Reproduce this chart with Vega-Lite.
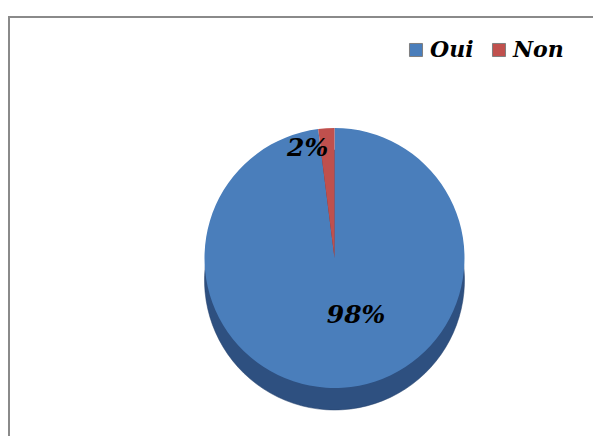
{
  "$schema": "https://vega.github.io/schema/vega-lite/v6.json",
  "width": 593,
  "height": 436,
  "autosize": {"type": "fit", "contains": "padding"},
  "padding": {"left": 8, "top": 16, "right": -4, "bottom": -4},
  "background": "white",
  "data": {"values": [
    {"cat": "Oui", "value": 98, "label": "98%", "order": 1},
    {"cat": "Non", "value": 2, "label": "2%", "order": 2}
  ]},
  "layer": [
    {
      "mark": {"type": "rect", "fill": null, "fillOpacity": 0, "stroke": "#8a8a8a", "strokeWidth": 2},
      "encoding": {}
    },
    {
      "mark": {"type": "arc", "xOffset": 32, "yOffset": 52, "stroke": "#24406a", "strokeWidth": 0.5},
      "encoding": {
        "theta": {"field": "value", "type": "quantitative", "stack": true},
        "order": {"field": "order", "type": "quantitative"},
        "radius": {"condition": {"test": "datum.cat === 'Non'", "value": 155}, "value": 130},
        "color": {"condition": {"test": "datum.cat === 'Non'", "value": "#7d2f2d"}, "value": "#2e5080"}
      }
    },
    {
      "mark": {"type": "arc", "xOffset": 32, "yOffset": 30},
      "encoding": {
        "theta": {"field": "value", "type": "quantitative", "stack": true},
        "order": {"field": "order", "type": "quantitative"},
        "radius": {"condition": {"test": "datum.cat === 'Non'", "value": 155}, "value": 130},
        "color": {
          "field": "cat",
          "type": "nominal",
          "sort": ["Oui", "Non"],
          "scale": {"domain": ["Oui", "Non"], "range": ["#4a7ebb", "#c0504d"]},
          "legend": {
            "title": null,
            "orient": "none",
            "legendX": 396,
            "legendY": 22,
            "direction": "horizontal",
            "symbolType": "square",
            "symbolSize": 170,
            "symbolStrokeColor": "#7f7f7f",
            "symbolStrokeWidth": 1,
            "labelFont": "DejaVu Serif",
            "labelFontSize": 22,
            "labelFontWeight": "bold",
            "labelFontStyle": "italic",
            "labelColor": "black",
            "labelOffset": 3,
            "columnPadding": 14
          }
        }
      }
    },
    {
      "mark": {"type": "text", "xOffset": 50, "yOffset": 30, "font": "DejaVu Serif", "fontSize": 25, "fontWeight": "bold", "fontStyle": "italic", "color": "black"},
      "encoding": {
        "theta": {"field": "value", "type": "quantitative", "stack": true},
        "order": {"field": "order", "type": "quantitative"},
        "radius": {"value": 57},
        "text": {"condition": {"test": "datum.cat === 'Oui'", "field": "label"}, "value": ""}
      }
    },
    {
      "mark": {"type": "text", "xOffset": 12, "yOffset": 30, "font": "DejaVu Serif", "fontSize": 25, "fontWeight": "bold", "fontStyle": "italic", "color": "black"},
      "encoding": {
        "theta": {"field": "value", "type": "quantitative", "stack": true},
        "order": {"field": "order", "type": "quantitative"},
        "radius": {"value": 110},
        "text": {"condition": {"test": "datum.cat === 'Non'", "field": "label"}, "value": ""}
      }
    }
  ]
}
